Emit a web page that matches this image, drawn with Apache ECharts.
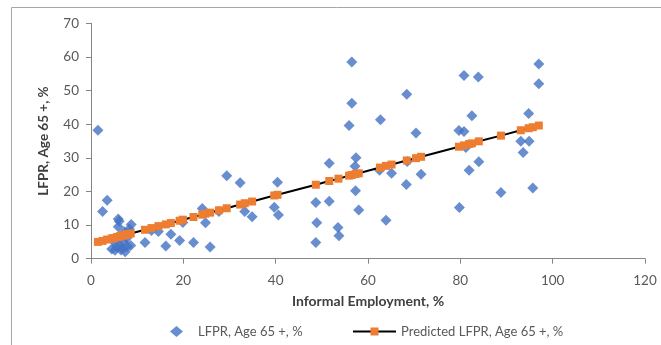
<!DOCTYPE html>
<html>
<head>
<meta charset="utf-8">
<script src="https://cdn.jsdelivr.net/npm/echarts@6/dist/echarts.min.js"></script>
<style>html,body{margin:0;padding:0;background:#fff}#c{width:661px;height:345px}</style>
</head>
<body>
<div id="c"></div>
<script>
// Observed LFPR (age 65+) vs informal employment
const obsX = [1.5,2.5,3.5,4.5,4.8,5.2,5.6,5.9,6.1,5.9,6.3,6.5,6.9,7.0,7.2,7.4,7.7,7.9,8.1,8.3,8.6,8.7,
  11.7,13.1,14.6,16.2,17.3,19.2,19.9,22.2,24.1,24.8,25.8,27.7,29.4,32.3,33.3,34.9,39.7,40.4,40.6,
  48.7,48.9,48.7,51.6,51.6,53.5,53.7,55.9,56.5,56.5,57.4,57.2,57.3,58.0,62.5,62.7,63.9,65.1,
  68.4,68.5,68.3,70.4,71.5,79.7,79.8,80.8,80.8,81.2,81.9,82.5,83.9,84.0,88.8,93.1,93.6,94.8,94.9,95.7,97.0,97.0];
const obsY = [38.2,14.0,17.4,2.9,5.4,2.5,3.6,11.8,11.1,9.5,4.1,2.6,3.0,5.1,8.0,2.1,6.1,3.6,7.6,8.8,3.9,10.2,
  4.8,8.4,8.1,3.8,7.3,5.4,10.8,4.8,14.9,10.7,3.5,14.0,24.7,22.6,14.0,12.5,15.3,22.7,13.0,
  16.7,10.7,4.8,28.4,17.1,9.3,6.8,39.6,58.5,46.2,30.0,27.5,20.2,14.5,26.3,41.3,11.4,25.4,
  48.9,28.9,22.1,37.4,25.1,38.1,15.2,37.8,54.5,33.1,26.3,42.5,54.0,28.8,19.7,34.9,31.6,43.2,34.9,21.0,57.9,52.0];
// Predicted LFPR
const predX = [1.5,2.5,3.5,4.5,4.8,5.6,5.9,6.3,6.5,7.0,7.4,7.7,8.1,8.6,11.7,13.1,14.6,16.2,17.3,19.2,19.9,
  22.2,24.1,24.8,25.8,27.7,29.4,32.3,33.3,34.9,39.7,40.4,48.7,51.6,53.6,55.9,56.5,57.3,58.0,62.6,63.9,65.1,
  68.4,70.4,71.5,79.7,80.8,81.9,82.5,84.0,88.8,93.1,94.8,95.7,97.0];
const predY = [5.0,5.3,5.7,6.0,6.1,6.4,6.5,6.7,6.7,6.9,7.1,7.2,7.3,7.5,8.6,9.1,9.7,10.2,10.6,11.3,11.6,
  12.4,13.1,13.4,13.7,14.4,15.0,16.1,16.5,17.0,18.8,19.0,22.0,23.1,23.8,24.7,24.9,25.2,25.4,27.1,27.6,28.0,
  29.2,29.9,30.3,33.3,33.7,34.1,34.3,34.9,36.6,38.2,38.8,39.1,39.6];
const xTicks = {min:0, max:120, interval:20};
const yTicks = {min:0, max:70, interval:10};
const seriesNames = ['LFPR, Age 65 +, %', 'Predicted LFPR, Age 65 +, %'];
const axisNames = {x:'Informal Employment, %', y:'LFPR, Age 65 +, %'};

const font = 'Lato';
const axisColor = '#868686';
const chart = echarts.init(document.getElementById('c'), null, {renderer:'canvas'});
chart.setOption({
  animation:false,
  textStyle:{fontFamily:font},
  graphic:[{type:'rect', shape:{x:11.5,y:7.5,width:700,height:400}, style:{fill:'none',stroke:'#a6a6a6',lineWidth:1}, silent:true, z:-1}],
  grid:{left:91, right:16, top:23.3, bottom:86.3},
  legend:[
    {data:[{name:seriesNames[0], icon:'diamond'}], left:165, top:320, itemWidth:13, itemHeight:11, itemGap:0,
     textStyle:{fontFamily:font, fontSize:13, color:'#595959', padding:[0,0,0,10]}},
    {data:[seriesNames[1]], left:347, top:320, itemWidth:43, itemHeight:10,
     textStyle:{fontFamily:font, fontSize:13, color:'#595959'}}
  ],
  xAxis:{type:'value', min:xTicks.min, max:xTicks.max, interval:xTicks.interval,
    name:axisNames.x, nameLocation:'middle', nameGap:36,
    nameTextStyle:{fontFamily:font, fontSize:14, fontWeight:'bold', color:'#404040'},
    axisLine:{show:true, lineStyle:{color:axisColor, width:1}},
    axisTick:{show:true, length:5, lineStyle:{color:axisColor}},
    axisLabel:{fontFamily:font, fontSize:13.5, color:'#595959', margin:15},
    splitLine:{show:false}},
  yAxis:{type:'value', min:yTicks.min, max:yTicks.max, interval:yTicks.interval,
    name:axisNames.y, nameLocation:'middle', nameGap:40, nameRotate:90,
    nameTextStyle:{fontFamily:font, fontSize:13.5, fontWeight:'bold', color:'#404040'},
    axisLine:{show:true, lineStyle:{color:axisColor, width:1}},
    axisTick:{show:true, length:5, lineStyle:{color:axisColor}},
    axisLabel:{fontFamily:font, fontSize:13.5, color:'#595959', margin:12},
    splitLine:{show:false}},
  series:[
    {name:seriesNames[0], type:'scatter', symbol:'diamond', symbolSize:11,
     itemStyle:{color:'#4472C4'}, data:obsX.map((x,i)=>[x,obsY[i]]), z:2},
    {name:seriesNames[1], type:'line', symbol:'rect', symbolSize:8, showSymbol:true,
     lineStyle:{color:'#000', width:2}, itemStyle:{color:'#ED7D31'},
     data:predX.map((x,i)=>[x,predY[i]]), z:3}
  ]
});
</script>
</body>
</html>
